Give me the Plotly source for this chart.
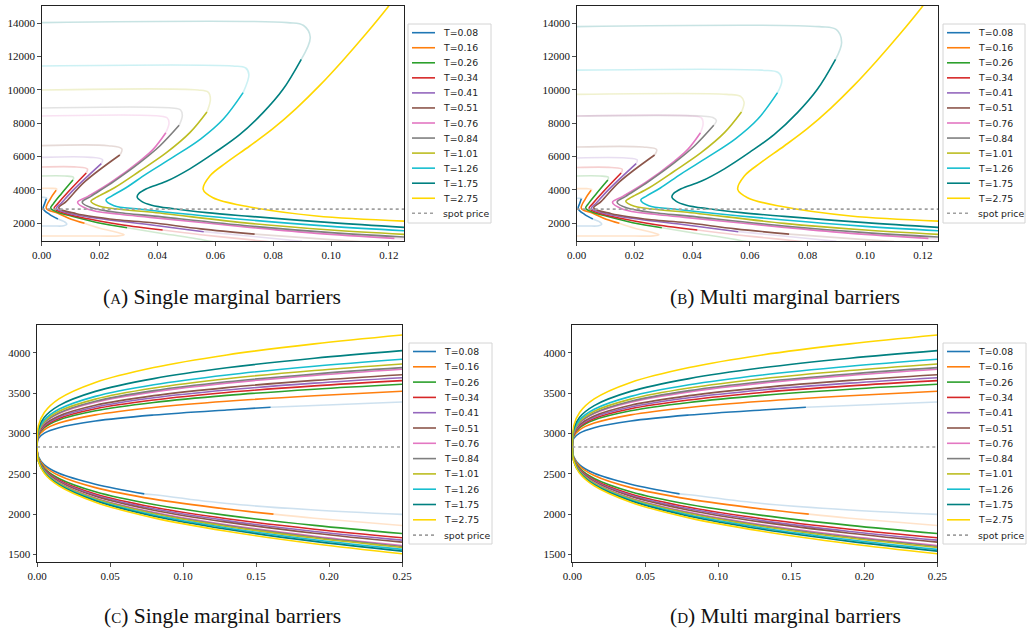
import plotly.graph_objects as go

T_LABELS = ["T=0.08", "T=0.16", "T=0.26", "T=0.34", "T=0.41", "T=0.51",
            "T=0.76", "T=0.84", "T=1.01", "T=1.26", "T=1.75", "T=2.75"]
COLORS = ["#1f77b4", "#ff7f0e", "#2ca02c", "#d62728", "#9467bd", "#8c564b",
          "#e377c2", "#7f7f7f", "#bcbd22", "#17becf", "#008080", "#ffd700"]
SPOT = 2830
SPOT_LABEL = "spot price"

# ---------- panels (A)/(B): solid barrier pieces, upper end -> nose -> lower end
A_SOLID = [
    [(0.0016, 3450), (0.0010, 3150), (0.0005, 2860), (0.0027, 2520), (0.0056, 2240)],
    [(0.0050, 3960), (0.0030, 3450), (0.0016, 2880), (0.0056, 2580), (0.0102, 2220), (0.0148, 1980)],
    [(0.0108, 4580), (0.0068, 3760), (0.0040, 3150), (0.0031, 2880), (0.0060, 2620), (0.0102, 2420),
     (0.0194, 2020), (0.0295, 1720)],
    [(0.0154, 5000), (0.0091, 3860), (0.0055, 3150), (0.0043, 2880), (0.0080, 2580), (0.0160, 2250),
     (0.0275, 1900), (0.0418, 1580)],
    [(0.0206, 5560), (0.0114, 4060), (0.0068, 3200), (0.0051, 2880), (0.0100, 2560), (0.0217, 2230),
     (0.0374, 1900), (0.0560, 1480)],
    [(0.0270, 6080), (0.0149, 4480), (0.0085, 3300), (0.0059, 2900), (0.0120, 2560), (0.0259, 2200),
     (0.0374, 2030), (0.0550, 1650), (0.0736, 1330)],
    [(0.0429, 7420), (0.0385, 6420), (0.0339, 5720), (0.0240, 4450), (0.0160, 3600), (0.0124, 3250),
     (0.0160, 2830), (0.0270, 2520), (0.0374, 2340), (0.0719, 1740), (0.0950, 1380), (0.1219, 1080)],
    [(0.0475, 7860), (0.0408, 6620), (0.0339, 5620), (0.0250, 4500), (0.0170, 3600), (0.0140, 3250),
     (0.0175, 2900), (0.0280, 2600), (0.0374, 2440), (0.0719, 1820), (0.1000, 1420), (0.1260, 1150)],
    [(0.0571, 8660), (0.0512, 7420), (0.0431, 6220), (0.0339, 5120), (0.0250, 4100), (0.0190, 3550),
     (0.0170, 3300), (0.0200, 3000), (0.0293, 2780), (0.0374, 2660), (0.0719, 1980), (0.1000, 1580),
     (0.1260, 1310)],
    [(0.0696, 9820), (0.0627, 8220), (0.0550, 7050), (0.0454, 5950), (0.0362, 4950), (0.0290, 4100),
     (0.0240, 3600), (0.0222, 3380), (0.0250, 3040), (0.0343, 2830), (0.0719, 2180), (0.1000, 1800),
     (0.1260, 1530)],
    [(0.0897, 11820), (0.0834, 10020), (0.0765, 8620), (0.0684, 7300), (0.0600, 6250), (0.0512, 5250),
     (0.0431, 4500), (0.0362, 4050), (0.0335, 3750), (0.0330, 3550), (0.0345, 3300), (0.0380, 3070),
     (0.0458, 2850), (0.0570, 2620), (0.0719, 2400), (0.1000, 2020), (0.1260, 1730)],
    [(0.1220, 15500), (0.1196, 14950), (0.1120, 13340), (0.1040, 11740), (0.0960, 10240),
     (0.0880, 8880), (0.0799, 7660), (0.0719, 6620), (0.0638, 5620), (0.0581, 4820), (0.0558, 4020),
     (0.0592, 3520), (0.0707, 3000), (0.0949, 2420), (0.1260, 2110)],
]

# faded continuation above the solid piece: from x=0 at the top level to the solid upper end
A_FADE_TOP = [
    [(0, 3540), (0.0008, 3540), (0.0018, 3500), (0.0016, 3450)],
    [(0, 4080), (0.0035, 4080), (0.0052, 4040), (0.0050, 3960)],
    [(0, 4820), (0.0080, 4820), (0.0110, 4740), (0.0108, 4580)],
    [(0, 5360), (0.0120, 5360), (0.0158, 5240), (0.0154, 5000)],
    [(0, 5940), (0.0170, 5940), (0.0210, 5800), (0.0206, 5560)],
    [(0, 6640), (0.0230, 6640), (0.0277, 6450), (0.0270, 6080)],
    [(0, 8420), (0.0405, 8420), (0.0434, 8300), (0.0440, 8000), (0.0429, 7420)],
    [(0, 8900), (0.0450, 8900), (0.0480, 8780), (0.0486, 8450), (0.0475, 7860)],
    [(0, 9980), (0.0540, 9980), (0.0575, 9850), (0.0583, 9420), (0.0571, 8660)],
    [(0, 11420), (0.0660, 11420), (0.0705, 11300), (0.0716, 10900), (0.0696, 9820)],
    [(0, 14020), (0.0850, 14020), (0.0905, 13850), (0.0928, 13150), (0.0897, 11820)],
    [],
]
B_FADE_TOP = [
    [(0, 3480), (0.0008, 3480), (0.0018, 3470), (0.0016, 3450)],
    [(0, 4060), (0.0035, 4060), (0.0052, 4020), (0.0050, 3960)],
    [(0, 4820), (0.0080, 4820), (0.0110, 4740), (0.0108, 4580)],
    [(0, 5330), (0.0120, 5330), (0.0158, 5220), (0.0154, 5000)],
    [(0, 5900), (0.0170, 5900), (0.0210, 5780), (0.0206, 5560)],
    [(0, 6560), (0.0230, 6560), (0.0277, 6400), (0.0270, 6080)],
    [(0, 8420), (0.0400, 8420), (0.0432, 8310), (0.0438, 7950), (0.0429, 7420)],
    [(0, 8420), (0.0430, 8420), (0.0472, 8330), (0.0484, 8150), (0.0475, 7860)],
    [(0, 9720), (0.0520, 9720), (0.0568, 9600), (0.0580, 9250), (0.0571, 8660)],
    [(0, 11170), (0.0640, 11170), (0.0698, 11030), (0.0711, 10550), (0.0696, 9820)],
    [(0, 13780), (0.0840, 13780), (0.0900, 13600), (0.0918, 12850), (0.0897, 11820)],
    [],
]
# faded continuation below the solid piece
A_FADE_BOT = [
    [(0.0056, 2240), (0.0080, 2060), (0.0087, 1930), (0.0076, 1830), (0.0040, 1820), (0, 1820)],
    [(0.0148, 1980), (0.0201, 1680), (0.0259, 1440), (0.0285, 1300), (0.0265, 1225), (0.0200, 1220), (0, 1220)],
    [(0.0295, 1720), (0.0400, 1420), (0.0520, 1100), (0.0600, 850)],
    [(0.0418, 1580), (0.0550, 1300), (0.0700, 1030), (0.0800, 850)],
    [(0.0560, 1480), (0.0750, 1160), (0.0900, 900)],
    [(0.0736, 1330), (0.0950, 1060), (0.1100, 880)],
    [(0.1219, 1080), (0.1350, 950)],
    [], [], [], [], [],
]

# ---------- panels (C)/(D): barriers sampled at C_X
C_X = [0, 0.001, 0.005, 0.015, 0.04, 0.08, 0.13, 0.19, 0.25]
C_UP = [
    [2830, 2937, 3003, 3070, 3153, 3227, 3290, 3345, 3389],
    [2830, 2962, 3044, 3127, 3229, 3321, 3398, 3466, 3521],
    [2830, 2979, 3070, 3165, 3279, 3382, 3470, 3547, 3608],
    [2830, 2987, 3084, 3184, 3305, 3414, 3507, 3588, 3653],
    [2830, 2994, 3096, 3200, 3326, 3441, 3537, 3622, 3690],
    [2830, 3001, 3107, 3216, 3348, 3467, 3567, 3656, 3727],
    [2830, 3014, 3128, 3245, 3386, 3514, 3622, 3718, 3794],
    [2830, 3018, 3134, 3253, 3398, 3529, 3639, 3736, 3814],
    [2830, 3027, 3148, 3273, 3424, 3561, 3677, 3779, 3860],
    [2830, 3038, 3166, 3298, 3458, 3602, 3724, 3832, 3918],
    [2830, 3058, 3199, 3344, 3520, 3678, 3812, 3931, 4025],
    [2830, 3095, 3259, 3427, 3631, 3816, 3972, 4109, 4219],
]
C_LO = [
    [2830, 2710, 2610, 2505, 2370, 2238, 2130, 2050, 1995],
    [2830, 2697, 2592, 2477, 2327, 2184, 2061, 1948, 1857],
    [2830, 2683, 2567, 2441, 2276, 2118, 1983, 1859, 1758],
    [2830, 2676, 2554, 2422, 2248, 2083, 1941, 1811, 1705],
    [2830, 2672, 2547, 2411, 2233, 2064, 1918, 1784, 1676],
    [2830, 2668, 2541, 2402, 2220, 2047, 1899, 1762, 1651],
    [2830, 2663, 2531, 2387, 2199, 2020, 1866, 1725, 1610],
    [2830, 2661, 2528, 2383, 2193, 2012, 1857, 1714, 1598],
    [2830, 2659, 2525, 2378, 2186, 2003, 1846, 1702, 1585],
    [2830, 2656, 2519, 2369, 2174, 1987, 1827, 1680, 1561],
    [2830, 2653, 2514, 2362, 2163, 1973, 1811, 1661, 1540],
    [2830, 2649, 2506, 2350, 2147, 1952, 1786, 1632, 1508],
]
# where the solid part stops (x, y); the rest is drawn faded
C_UP_CUT = [(0.16, 3323)] + [None] * 11
C_LO_CUT = [(0.0735, 2250), (0.162, 1998)] + [None] * 10

A_XRANGE, A_YRANGE = [0, 0.1252], [920, 15020]
C_XRANGE, C_YRANGE = [0, 0.25], [1405, 4343]
CAPTIONS = ["(<span style='font-size:15px'>A</span>) Single marginal barriers",
            "(<span style='font-size:15px'>B</span>) Multi marginal barriers",
            "(<span style='font-size:15px'>C</span>) Single marginal barriers",
            "(<span style='font-size:15px'>D</span>) Multi marginal barriers"]

W, H = 1028, 634
LW = 1.6
FADE = 0.22


def rgba(hexc, a):
    h = hexc.lstrip("#")
    return "rgba(%d,%d,%d,%.2f)" % (int(h[0:2], 16), int(h[2:4], 16), int(h[4:6], 16), a)


fig = go.Figure()


def line(pts, color, ax, faded=False):
    if not pts:
        return
    fig.add_trace(go.Scatter(
        x=[p[0] for p in pts], y=[p[1] for p in pts], mode="lines",
        line=dict(color=rgba(color, FADE) if faded else color, width=LW, shape="spline", smoothing=1.0),
        xaxis="x" + ax, yaxis="y" + ax, hoverinfo="skip", showlegend=False))


def spot(ax, rng):
    fig.add_trace(go.Scatter(x=[rng[0], rng[1]], y=[SPOT, SPOT], mode="lines",
                             line=dict(color="#a0a0a0", width=1.6, dash="dot"),
                             xaxis="x" + ax, yaxis="y" + ax, hoverinfo="skip", showlegend=False))


def split(xs, ys, cut):
    pts = list(zip(xs, ys))
    if cut is None:
        return pts, []
    solid = [p for p in pts if p[0] < cut[0]] + [cut]
    fade = [cut] + [p for p in pts if p[0] > cut[0]]
    return solid, fade


for ax, ftop in [("", A_FADE_TOP), ("2", B_FADE_TOP)]:
    for i in range(12):
        line(ftop[i], COLORS[i], ax, faded=True)
        line(A_FADE_BOT[i], COLORS[i], ax, faded=True)
    for i in range(12):
        line(A_SOLID[i], COLORS[i], ax)
    spot(ax, A_XRANGE)

for ax in ["3", "4"]:
    solids = []
    for i in range(12):
        su, fu = split(C_X, C_UP[i], C_UP_CUT[i])
        sl, fl = split(C_X, C_LO[i], C_LO_CUT[i])
        line(fu, COLORS[i], ax, faded=True)
        line(fl, COLORS[i], ax, faded=True)
        solids.append((su, sl))
    for i in range(12):
        line(solids[i][0], COLORS[i], ax)
        line(solids[i][1], COLORS[i], ax)
    spot(ax, C_XRANGE)

TICKFONT = dict(family="Liberation Serif, serif", size=11, color="#111")


def xa(l, r, rng, dtick, anchor):
    return dict(domain=[l / W, r / W], range=rng, dtick=dtick, tick0=0, tickformat=".2f",
                showgrid=False, zeroline=False, showline=True, mirror=True, linecolor="#222",
                linewidth=1, ticks="outside", ticklen=3.5, tickwidth=0.8, tickcolor="#222",
                tickfont=TICKFONT, anchor=anchor, automargin=False)


def ya(t, b, rng, dtick, anchor):
    return dict(domain=[1 - b / H, 1 - t / H], range=rng, dtick=dtick, tick0=0,
                showgrid=False, zeroline=False, showline=True, mirror=True, linecolor="#222",
                linewidth=1, ticks="outside", ticklen=3.5, tickwidth=0.8, tickcolor="#222",
                tickfont=TICKFONT, anchor=anchor, tickformat="d", automargin=False)


fig.update_layout(
    width=W, height=H, margin=dict(l=0, r=0, t=0, b=0),
    paper_bgcolor="white", plot_bgcolor="white", showlegend=False,
    xaxis=xa(41.7, 404, A_XRANGE, 0.02, "y"),
    yaxis=ya(6, 241, A_YRANGE, 2000, "x"),
    xaxis2=xa(576.7, 938, A_XRANGE, 0.02, "y2"),
    yaxis2=ya(6, 241, A_YRANGE, 2000, "x2"),
    xaxis3=xa(37, 402, C_XRANGE, 0.05, "y3"),
    yaxis3=ya(325, 562, C_YRANGE, 500, "x3"),
    xaxis4=xa(572.3, 937.3, C_XRANGE, 0.05, "y4"),
    yaxis4=ya(325, 562, C_YRANGE, 500, "x4"),
)

# ---------- legends (box, line samples, labels) in pixel layout
LEGENDS = [  # left, right, top, bottom, first entry centre, entry step
    (408, 491, 24, 223, 32.7, 15.05),
    (943, 1025, 24, 223, 32.7, 15.05),
    (409, 492, 343, 544, 351.5, 15.3),
    (943, 1026, 343, 544, 351.5, 15.3),
]
shapes = []
for (l, r, t, b, y0, dy) in LEGENDS:
    shapes.append(dict(type="rect", xref="paper", yref="paper", x0=l / W, x1=r / W,
                       y0=1 - b / H, y1=1 - t / H, line=dict(color="#d4d4d4", width=1),
                       fillcolor="rgba(255,255,255,0.85)", layer="above"))
    entries = [(T_LABELS[i], COLORS[i], "solid") for i in range(12)] + [(SPOT_LABEL, "#a0a0a0", "dot")]
    for k, (lab, col, dash) in enumerate(entries):
        yc = y0 + k * dy
        shapes.append(dict(type="line", xref="paper", yref="paper", x0=(l + 4) / W, x1=(l + 27) / W,
                           y0=1 - yc / H, y1=1 - yc / H, line=dict(color=col, width=1.6, dash=dash),
                           layer="above"))
        fig.add_annotation(text=lab, x=(l + 34) / W, y=1 - yc / H, xref="paper", yref="paper",
                           showarrow=False, xanchor="left", yanchor="middle", borderpad=0,
                           font=dict(family="DejaVu Sans", size=9.3, color="#222"))
fig.update_layout(shapes=shapes)

cap_pos = [(222, 297), (785, 297), (222, 616), (785, 616)]
for (cx, cy), txt in zip(cap_pos, CAPTIONS):
    fig.add_annotation(text=txt, x=cx / W, y=1 - cy / H, xref="paper", yref="paper",
                       showarrow=False, xanchor="center", yanchor="middle",
                       font=dict(family="Liberation Serif", size=21.5, color="#111"))

fig.write_html("out.html", config={"displayModeBar": False, "staticPlot": True},
               post_script="document.body.style.margin='0px';document.body.style.padding='0px';")
